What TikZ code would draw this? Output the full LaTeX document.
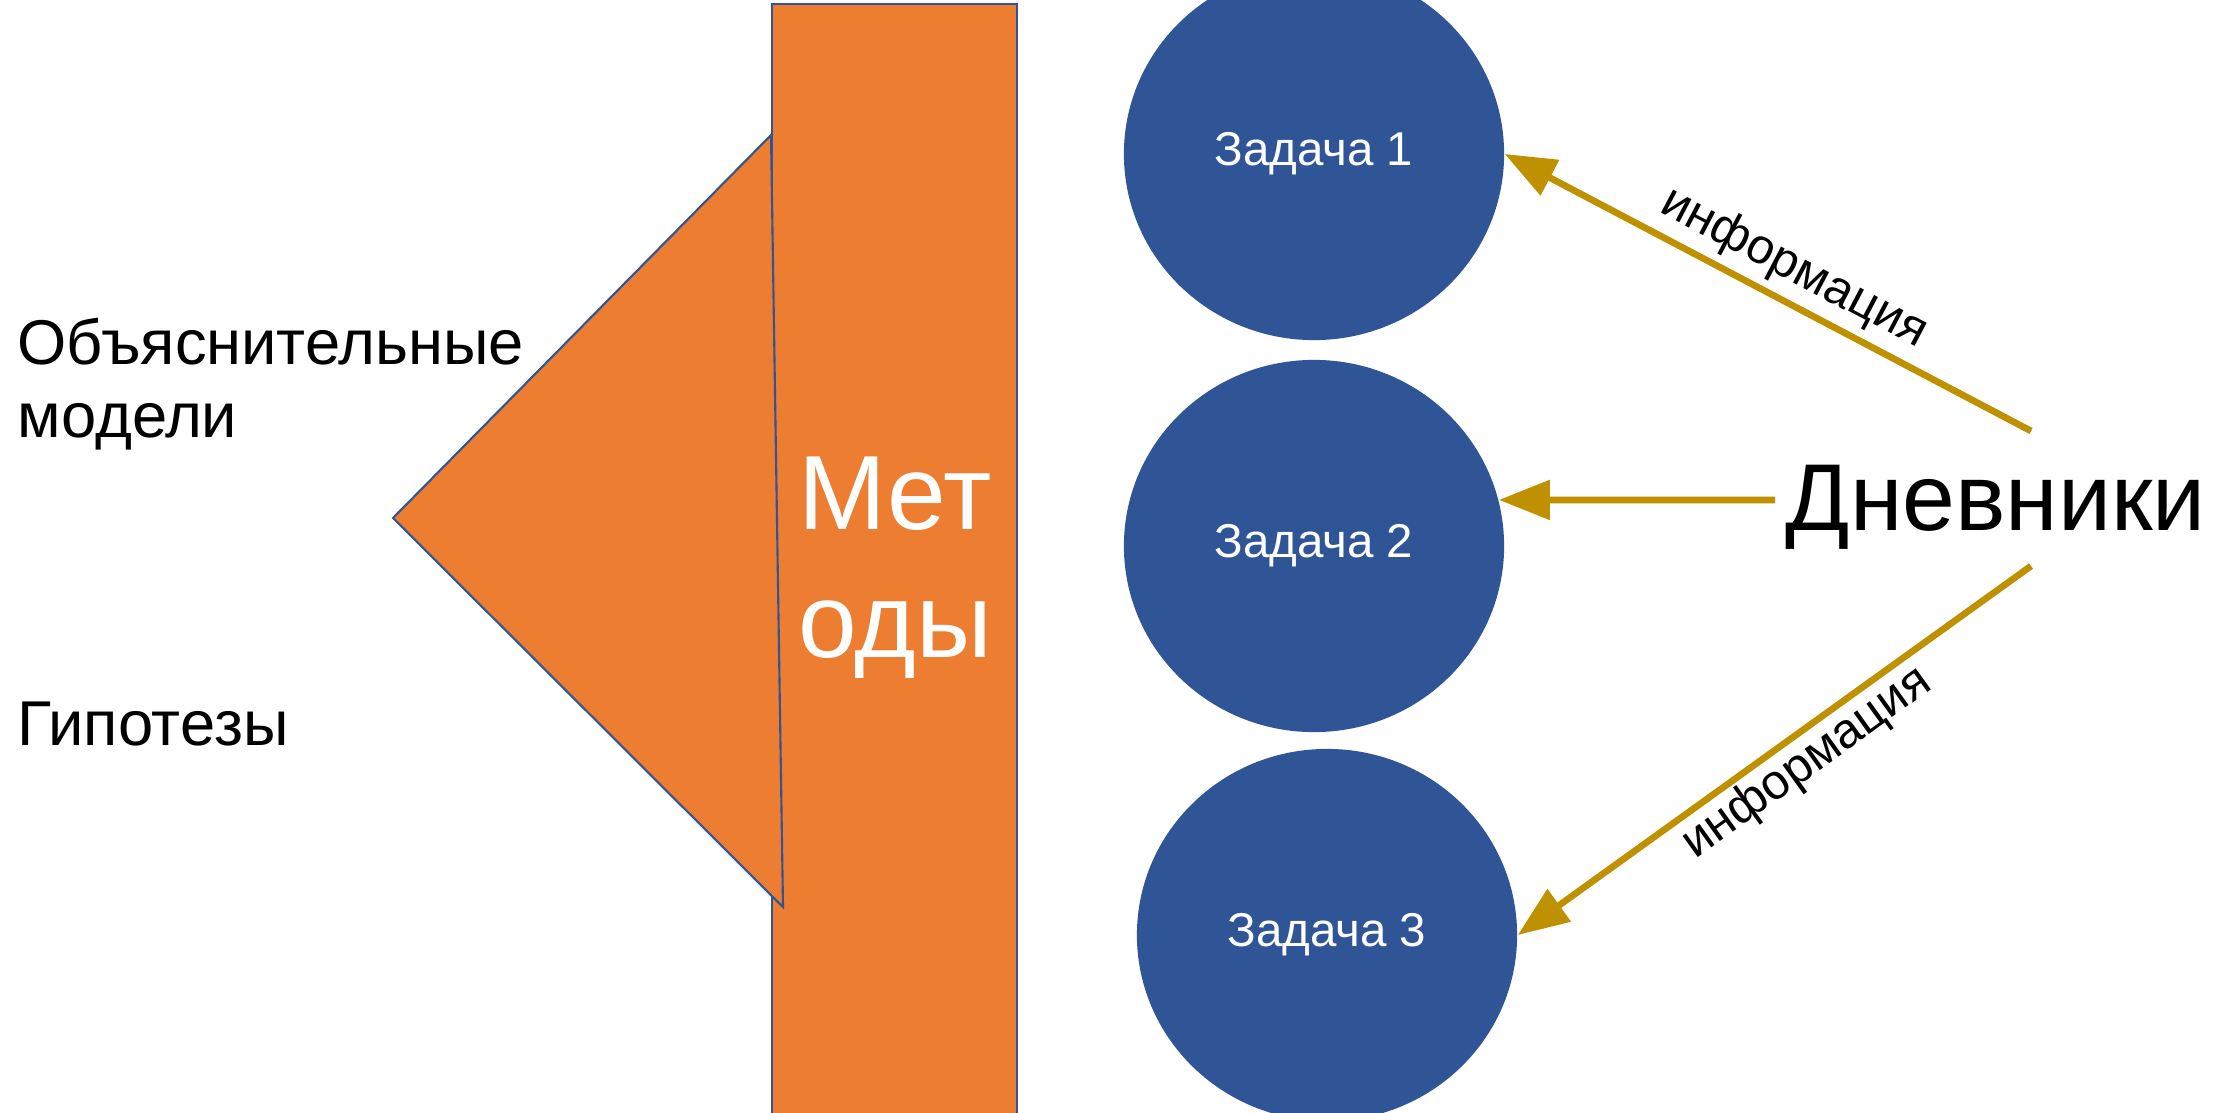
\documentclass[tikz,border=0pt]{standalone}
\usepackage{fontspec}
\setmainfont{Liberation Sans}
\usetikzlibrary{arrows.meta,shapes.geometric}
\definecolor{orng}{HTML}{ED7D31}
\definecolor{blu}{HTML}{2F5597}
\definecolor{gold}{HTML}{BF9000}
\begin{document}
\begin{tikzpicture}[x=0.01cm,y=-0.01cm,
  shapeedge/.style={fill=orng,draw=blu,line width=0.6pt,line join=miter},
  task/.style={ellipse,fill=blu,minimum width=3.8cm,minimum height=3.72cm,inner sep=0pt,text=white,font=\fontsize{13.5}{16}\selectfont},
  flow/.style={draw=gold,line width=1.9pt,-{Triangle[length=14.5pt,width=11pt]}},
  lbl/.style={font=\fontsize{14}{16}\selectfont,sloped},
  side/.style={font=\fontsize{18}{21}\selectfont,inner sep=0pt,align=left}]
\useasboundingbox (0,0) rectangle (2228,1112);
\clip (0,0) rectangle (2228,1112);
\fill[white] (0,0) rectangle (2228,1112);
% methods bar and wedge
\path[shapeedge] (772,4) rectangle (1017,1130);
\path[shapeedge] (771,135) -- (393,518) -- (783,907) -- cycle;
\node[font=\fontsize{30}{36.4}\selectfont,text=white,align=center,inner sep=0pt,anchor=north] (met) at (895,456) {Мет\\оды};
% left texts
\node[side,anchor=north west] (models) at (17,317) {Объяснительные\\модели};
\node[side,anchor=base west] (hyp) at (17,745) {Гипотезы};
% tasks
\node[task] (e1) at (1314,154) {Задача 1};
\node[task] (e2) at (1314,546) {Задача 2};
\node[task] (e3) at (1327,935) {Задача 3};
% diaries
\node[font=\fontsize{27}{32}\selectfont,anchor=base west,inner sep=0pt] (dn) at (1785,530) {Дневники};
\coordinate (s1) at (2031,431);
\coordinate (s2) at (1775,500);
\coordinate (s3) at (2031,566);
\draw[flow] (s1) -- node[lbl,above,inner sep=2pt,pos=0.48] {информация} (e1.east);
\draw[flow] (s2) -- (e2.14);
\draw[flow] (s3) -- node[lbl,below,inner sep=1pt,pos=0.47] {информация} (e3.east);
\end{tikzpicture}
\end{document}
